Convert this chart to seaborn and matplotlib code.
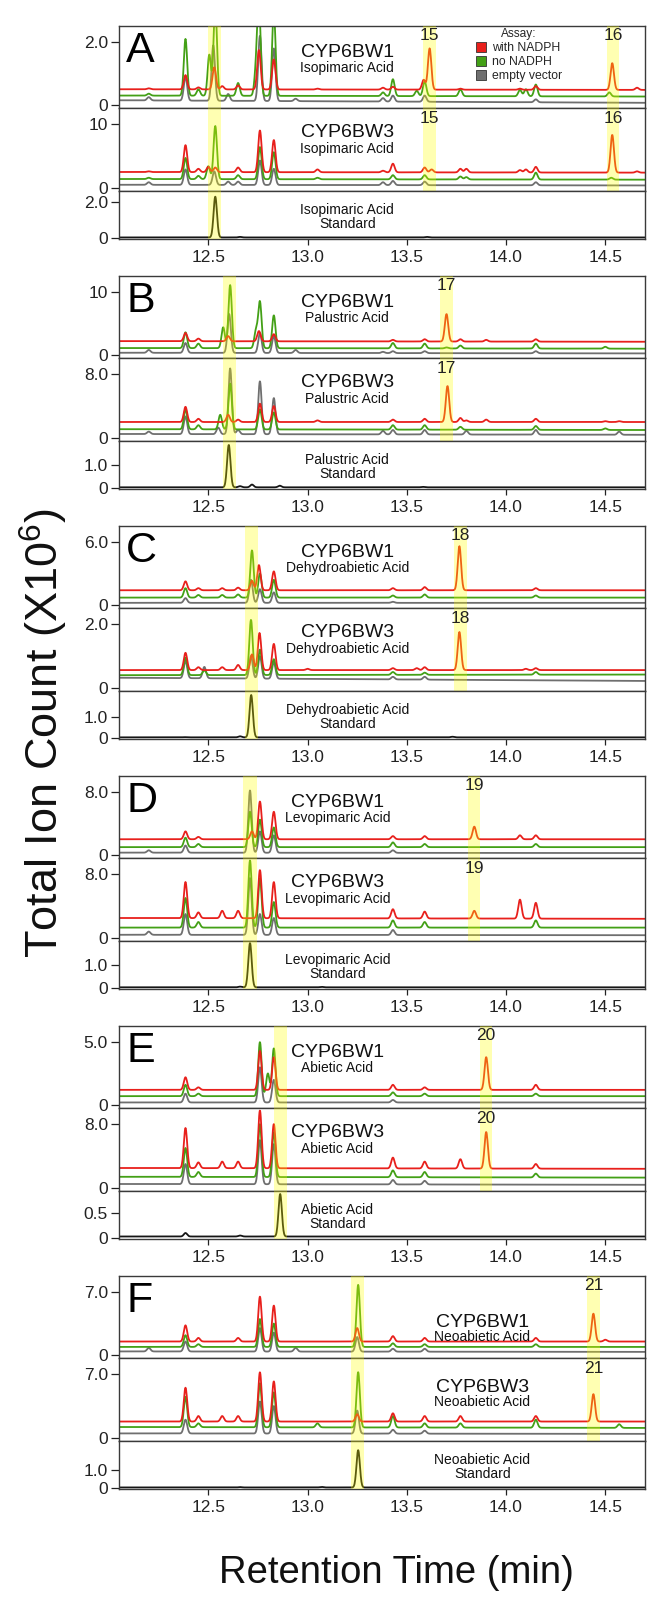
import numpy as np
import pandas as pd
import matplotlib
matplotlib.use("Agg")
import matplotlib.pyplot as plt
from matplotlib.lines import Line2D
import seaborn as sns

sns.set_theme(style="white")
plt.rcParams["font.family"] = ["Liberation Sans", "DejaVu Sans"]
plt.rcParams["mathtext.fontset"] = "custom"
plt.rcParams["mathtext.rm"] = "Liberation Sans"

# ---------------- data ----------------
X_MIN, X_MAX = 12.05, 14.7
X_TICKS = [12.5, 13.0, 13.5, 14.0, 14.5]
X_TICK_LABELS = ["12.5", "13.0", "13.5", "14.0", "14.5"]

PANELS = ["A", "B", "C", "D", "E", "F"]
ENZYMES = ["CYP6BW1", "CYP6BW3"]
SUBSTRATES = ["Isopimaric Acid", "Palustric Acid", "Dehydroabietic Acid",
              "Levopimaric Acid", "Abietic Acid", "Neoabietic Acid"]
SUBSTRATE_RT = [12.532, 12.605, 12.718, 12.71, 12.862, 13.25]
PRODUCT_LABELS = [["15", "16"], ["17"], ["18"], ["19"], ["20"], ["21"]]
PRODUCT_RT = [[13.615, 14.54], [13.70], [13.77], [13.84], [13.90], [14.44]]
LABEL_X = [13.2, 13.2, 13.2, 13.15, 13.15, 13.88]

# y tick value (label) for sub-panels: BW1, BW3, standard
YTICK_BW1 = [2.0, 10, 6.0, 8.0, 5.0, 7.0]
YTICK_BW1_LBL = ["2.0", "10", "6.0", "8.0", "5.0", "7.0"]
YTICK_BW3 = [10, 8.0, 2.0, 8.0, 8.0, 7.0]
YTICK_BW3_LBL = ["10", "8.0", "2.0", "8.0", "8.0", "7.0"]
YTICK_STD = [2.0, 1.0, 1.0, 1.0, 0.5, 1.0]
YTICK_STD_LBL = ["2.0", "1.0", "1.0", "1.0", "0.5", "1.0"]
YLIM_BW1 = [(-0.095, 2.51), (-0.48, 12.54), (-0.29, 7.52), (-0.38, 10.03), (-0.24, 6.27), (-0.33, 8.78)]
YLIM_BW3 = [(-0.47, 12.5), (-0.375, 10.0), (-0.094, 2.5), (-0.375, 10.0), (-0.375, 10.0), (-0.33, 8.75)]
YLIM_STD = [(-0.056, 2.61), (-0.043, 2.04), (-0.048, 2.24), (-0.043, 2.04), (-0.02, 0.94), (-0.056, 2.61)]

# traces: ((baseline_left, baseline_right), [(retention time, apex height), ...])
A_BW1_RED = ((0.50, 0.48), [(12.20, 0.53), (12.385, 0.95), (12.45, 0.56), (12.53, 1.2), (12.57, 0.6), (12.65, 0.62),
                            (12.755, 1.75), (12.83, 1.45), (13.05, 0.52), (13.38, 0.55), (13.43, 0.58), (13.585, 0.8),
                            (13.615, 1.8), (13.77, 0.52), (14.07, 0.52), (14.15, 0.6), (14.535, 1.33), (14.66, 0.55)])
A_BW1_GRN = ((0.30, 0.27), [(12.20, 0.36), (12.385, 2.1), (12.45, 0.5), (12.505, 1.6), (12.535, 3.2), (12.65, 0.7),
                            (12.74, 1.0), (12.755, 3.2), (12.83, 3.0), (13.38, 0.4), (13.43, 0.82), (13.55, 0.45),
                            (13.59, 0.75), (13.77, 0.5), (14.07, 0.48), (14.10, 0.5), (14.15, 0.65), (14.52, 0.4)])
A_BW1_GRY = ((0.15, 0.07), [(12.20, 0.25), (12.385, 0.9), (12.525, 1.9), (12.60, 0.35), (12.76, 2.2), (12.83, 1.8),
                            (12.94, 0.2), (13.38, 0.22), (13.43, 0.3), (13.59, 0.3), (14.15, 0.18)])
A_BW3_RED = ((2.5, 2.4), [(12.20, 2.6), (12.385, 6.7), (12.45, 3.0), (12.50, 3.3), (12.535, 3.2), (12.65, 3.2),
                          (12.76, 9.0), (12.83, 7.5), (13.05, 2.9), (13.38, 2.7), (13.43, 3.8), (13.59, 3.2),
                          (13.625, 2.9), (13.77, 3.0), (13.80, 3.0), (14.07, 2.8), (14.10, 2.9), (14.15, 3.3),
                          (14.535, 8.3), (14.66, 2.6)])
A_BW3_GRN = ((1.4, 1.3), [(12.20, 1.6), (12.385, 4.7), (12.45, 1.9), (12.50, 3.4), (12.535, 9.7), (12.65, 2.0),
                          (12.76, 6.4), (12.83, 5.6), (13.05, 1.6), (13.43, 2.0), (13.59, 2.0), (13.77, 1.8),
                          (13.80, 1.7), (14.15, 2.4), (14.53, 1.6)])
A_BW3_GRY = ((0.5, 0.4), [(12.20, 0.9), (12.385, 2.9), (12.53, 2.6), (12.60, 1.0), (12.65, 1.0), (12.76, 4.3),
                          (12.83, 3.0), (13.38, 0.9), (13.43, 1.1), (13.59, 1.0), (14.15, 0.9)])
A_STD = ((0.03, 0.03), [(12.535, 2.3), (12.66, 0.06), (13.6, 0.06)])

B_BW1_RED = ((2.2, 2.1), [(12.385, 3.5), (12.45, 2.6), (12.60, 3.0), (12.755, 3.8), (12.83, 3.3), (13.43, 2.4),
                          (13.59, 2.5), (13.70, 6.5), (13.77, 2.5), (13.90, 2.4), (14.15, 2.5)])
B_BW1_GRN = ((1.1, 1.0), [(12.385, 3.6), (12.45, 1.8), (12.575, 4.4), (12.61, 11.1), (12.74, 3.8), (12.76, 8.4),
                          (12.83, 6.3), (13.43, 1.9), (13.59, 1.8), (13.70, 1.2), (13.77, 1.5), (14.15, 1.8), (14.50, 1.3)])
B_BW1_GRY = ((0.35, 0.25), [(12.20, 0.8), (12.385, 1.9), (12.605, 6.5), (12.76, 3.5), (12.83, 3.0), (12.94, 0.8),
                            (13.38, 0.5), (13.43, 0.6), (13.59, 0.6), (14.15, 0.6)])
B_BW3_RED = ((2.0, 2.0), [(12.385, 3.9), (12.45, 2.4), (12.60, 2.9), (12.65, 2.3), (12.76, 4.3), (12.83, 4.0),
                          (13.05, 2.2), (13.43, 2.3), (13.59, 2.4), (13.705, 6.5), (13.77, 2.5), (13.80, 2.2),
                          (13.90, 2.3), (14.15, 2.4), (14.50, 2.1), (14.57, 2.1)])
B_BW3_GRN = ((1.1, 1.0), [(12.385, 3.6), (12.45, 1.6), (12.56, 2.9), (12.61, 6.8), (12.76, 3.6), (12.83, 3.2),
                          (13.43, 1.6), (13.59, 1.6), (13.77, 1.4), (14.15, 1.5), (14.50, 1.2)])
B_BW3_GRY = ((0.5, 0.4), [(12.20, 0.8), (12.385, 2.7), (12.55, 1.3), (12.61, 8.7), (12.65, 1.0), (12.76, 7.1),
                          (12.83, 5.0), (13.38, 0.9), (13.43, 1.0), (13.59, 1.0), (13.80, 0.9), (14.15, 1.0), (14.57, 0.8)])
B_STD = ((0.03, 0.03), [(12.603, 1.87), (12.66, 0.08), (12.72, 0.15), (12.86, 0.1), (13.58, 0.05)])

C_BW1_RED = ((1.4, 1.4), [(12.385, 2.25), (12.45, 1.6), (12.57, 1.6), (12.65, 1.65), (12.72, 2.3), (12.755, 3.8),
                          (12.83, 3.2), (13.43, 1.6), (13.59, 1.7), (13.765, 5.6), (14.15, 1.6)])
C_BW1_GRN = ((0.7, 0.7), [(12.385, 1.6), (12.45, 0.95), (12.57, 0.95), (12.65, 1.0), (12.72, 5.2), (12.76, 3.0),
                          (12.83, 2.4), (13.43, 0.9), (13.59, 1.0), (14.15, 0.9)])
C_BW1_GRY = ((0.2, 0.2), [(12.385, 0.65), (12.715, 2.4), (12.76, 1.5), (12.83, 1.2), (13.43, 0.3)])
C_BW3_RED = ((0.56, 0.56), [(12.385, 1.1), (12.45, 0.65), (12.57, 0.65), (12.65, 0.72), (12.72, 1.05), (12.758, 1.72),
                            (12.83, 1.38), (13.0, 0.6), (13.43, 0.62), (13.55, 0.62), (13.59, 0.65), (13.765, 1.75),
                            (14.10, 0.6), (14.15, 0.62)])
C_BW3_GRN = ((0.40, 0.42), [(12.385, 0.95), (12.48, 0.55), (12.715, 2.13), (12.76, 1.2), (12.83, 0.9), (13.43, 0.5),
                            (13.59, 0.48), (14.15, 0.5)])
C_BW3_GRY = ((0.32, 0.22), [(12.385, 0.85), (12.48, 0.66), (12.715, 1.0), (12.76, 1.0), (12.83, 0.8), (13.43, 0.35),
                            (13.59, 0.35)])
C_STD = ((0.03, 0.03), [(12.716, 2.05), (12.66, 0.08), (12.38, 0.04), (13.73, 0.06)])

D_BW1_RED = ((2.0, 2.0), [(12.385, 3.0), (12.45, 2.3), (12.72, 3.0), (12.76, 6.8), (12.83, 5.5), (13.43, 2.4),
                          (13.59, 2.4), (13.84, 3.6), (14.07, 2.5), (14.15, 2.5)])
D_BW1_GRN = ((1.0, 1.0), [(12.385, 2.2), (12.45, 1.4), (12.71, 5.5), (12.76, 4.5), (12.83, 3.5), (13.43, 1.6),
                          (13.59, 1.4), (14.15, 1.4)])
D_BW1_GRY = ((0.3, 0.25), [(12.20, 0.6), (12.385, 1.2), (12.71, 8.2), (12.76, 3.0), (12.83, 2.5), (13.43, 0.6)])
D_BW3_RED = ((2.5, 2.4), [(12.385, 7.0), (12.45, 3.2), (12.57, 3.4), (12.65, 3.4), (12.76, 8.5), (12.83, 7.0),
                          (13.43, 3.6), (13.59, 3.3), (13.84, 3.4), (14.07, 4.8), (14.15, 4.4)])
D_BW3_GRN = ((1.3, 1.3), [(12.385, 5.0), (12.45, 2.0), (12.71, 9.7), (12.76, 7.5), (12.83, 4.5), (13.43, 2.2),
                          (13.59, 2.0), (14.15, 2.2)])
D_BW3_GRY = ((0.4, 0.35), [(12.20, 0.8), (12.385, 3.0), (12.71, 7.5), (12.76, 3.0), (12.83, 2.5), (13.43, 1.0)])
D_STD = ((0.03, 0.03), [(12.71, 1.95), (12.66, 0.06), (13.07, 0.05)])

E_BW1_RED = ((1.2, 1.2), [(12.385, 2.2), (12.45, 1.4), (12.76, 4.3), (12.83, 3.8), (13.43, 1.6), (13.59, 1.4),
                          (13.90, 3.8), (14.15, 1.6)])
E_BW1_GRN = ((0.7, 0.7), [(12.385, 1.6), (12.45, 0.9), (12.76, 5.0), (12.80, 2.5), (12.83, 4.5), (13.43, 1.0),
                          (13.59, 0.9), (14.15, 0.9)])
E_BW1_GRY = ((0.2, 0.2), [(12.385, 0.9), (12.76, 3.0), (12.83, 2.0), (13.43, 0.4)])
E_BW3_RED = ((2.5, 2.4), [(12.385, 7.5), (12.45, 3.2), (12.57, 3.3), (12.65, 3.3), (12.76, 9.7), (12.83, 8.0),
                          (13.43, 3.8), (13.59, 3.3), (13.77, 3.6), (13.90, 7.0), (14.15, 3.0)])
E_BW3_GRN = ((1.4, 1.3), [(12.385, 5.0), (12.45, 2.0), (12.76, 8.0), (12.83, 7.0), (13.43, 2.2), (13.59, 2.0),
                          (14.15, 1.8)])
E_BW3_GRY = ((0.5, 0.4), [(12.385, 3.0), (12.76, 6.0), (12.83, 5.5), (13.43, 1.0), (13.59, 0.9)])
E_STD = ((0.03, 0.03), [(12.862, 0.88), (12.385, 0.1), (12.66, 0.05)])

F_BW1_RED = ((1.5, 1.5), [(12.385, 3.3), (12.45, 1.9), (12.65, 1.9), (12.76, 6.5), (12.83, 5.5), (13.25, 3.0),
                          (13.43, 2.1), (13.59, 1.9), (14.15, 1.9), (14.44, 4.6), (14.50, 1.7)])
F_BW1_GRN = ((0.9, 0.9), [(12.385, 2.2), (12.45, 1.2), (12.76, 4.0), (12.83, 3.5), (13.255, 7.8), (13.43, 1.3),
                          (13.59, 1.2), (14.15, 1.2)])
F_BW1_GRY = ((0.4, 0.35), [(12.20, 0.8), (12.385, 1.5), (12.76, 3.0), (12.83, 2.5), (12.94, 0.8), (13.25, 2.0),
                           (13.43, 0.7), (13.59, 0.7)])
F_BW3_RED = ((1.8, 1.8), [(12.385, 5.5), (12.45, 2.4), (12.57, 2.4), (12.65, 2.4), (12.76, 7.2), (12.83, 6.2),
                          (13.25, 2.6), (13.43, 2.7), (13.59, 2.4), (13.77, 2.4), (14.15, 2.4), (14.44, 4.8)])
F_BW3_GRN = ((1.2, 1.1), [(12.385, 4.5), (12.45, 1.6), (12.76, 6.0), (12.83, 5.0), (13.05, 1.6), (13.255, 7.2),
                          (13.43, 2.4), (13.59, 1.6), (13.77, 1.6), (14.15, 2.0), (14.57, 1.5)])
F_BW3_GRY = ((0.5, 0.45), [(12.385, 2.0), (12.76, 4.0), (12.83, 3.5), (13.25, 3.0), (13.43, 0.9), (13.59, 0.8)])
F_STD = ((0.03, 0.03), [(13.255, 2.1), (12.66, 0.05), (13.07, 0.06)])

BW1_TRACES = [(A_BW1_GRY, A_BW1_GRN, A_BW1_RED), (B_BW1_GRY, B_BW1_GRN, B_BW1_RED),
              (C_BW1_GRY, C_BW1_GRN, C_BW1_RED), (D_BW1_GRY, D_BW1_GRN, D_BW1_RED),
              (E_BW1_GRY, E_BW1_GRN, E_BW1_RED), (F_BW1_GRY, F_BW1_GRN, F_BW1_RED)]
BW3_TRACES = [(A_BW3_GRY, A_BW3_GRN, A_BW3_RED), (B_BW3_GRY, B_BW3_GRN, B_BW3_RED),
              (C_BW3_GRY, C_BW3_GRN, C_BW3_RED), (D_BW3_GRY, D_BW3_GRN, D_BW3_RED),
              (E_BW3_GRY, E_BW3_GRN, E_BW3_RED), (F_BW3_GRY, F_BW3_GRN, F_BW3_RED)]
STD_TRACES = [A_STD, B_STD, C_STD, D_STD, E_STD, F_STD]

ASSAYS = ["with NADPH", "no NADPH", "empty vector"]
COL_RED, COL_GRN, COL_GRY, COL_BLK = "#e8201c", "#43a016", "#6f6f6f", "#151515"
TRACE_COLORS = [COL_GRY, COL_GRN, COL_RED]
BAND_COLOR = "#ffff00"

# text placement (axes-height fraction) for enzyme / substrate labels
NAME_Y_BW1 = [0.68, 0.68, 0.68, 0.68, 0.68, 0.43]
ACID_Y_BW1 = [0.49, 0.49, 0.49, 0.49, 0.49, 0.26]

# ---------------- helpers ----------------
RT = np.linspace(X_MIN, X_MAX, 1600)
SIGMA = 0.0085


def chromatogram(trace):
    (b0, b1), peaks = trace
    base = b0 + (b1 - b0) * (RT - X_MIN) / (X_MAX - X_MIN)
    y = base.copy()
    for rt, apex in peaks:
        amp = apex - np.interp(rt, RT, base)
        y += amp * np.exp(-0.5 * ((RT - rt) / SIGMA) ** 2)
    return pd.DataFrame({"rt": RT, "tic": y})


def style_axis(ax, ylim, tick, tick_lbl, bottom):
    ax.set_xlim(X_MIN, X_MAX)
    ax.set_ylim(*ylim)
    ax.set_yticks([0, tick])
    ax.set_yticklabels(["0", tick_lbl])
    ax.set_xlabel("")
    ax.set_ylabel("")
    ax.tick_params(axis="y", which="both", left=True, length=6, width=0.9, pad=2,
                   labelsize=12.5, colors="#222222")
    if bottom:
        ax.set_xticks(X_TICKS)
        ax.set_xticklabels(X_TICK_LABELS)
        ax.tick_params(axis="x", bottom=True, length=4, width=0.9, pad=4,
                       labelsize=12.5, colors="#222222")
    else:
        ax.set_xticks([])
    for s in ax.spines.values():
        s.set_color("#3a3a3a")
        s.set_linewidth(1.0)
    ax.set_facecolor("white")


# ---------------- figure ----------------
W, H = 672, 1597
fig = plt.figure(figsize=(W / 100, H / 100), dpi=100)
fig.patch.set_facecolor("white")

LEFT, RIGHT = 119, 645
GROUP_TOP0, GROUP_STEP = 26, 250
H1, H2, H3 = 82, 83, 48


def add_ax(top, h):
    return fig.add_axes([LEFT / W, 1 - (top + h) / H, (RIGHT - LEFT) / W, h / H])


for g in range(6):
    top = GROUP_TOP0 + g * GROUP_STEP
    ax1 = add_ax(top, H1)
    ax2 = add_ax(top + H1, H2)
    ax3 = add_ax(top + H1 + H2, H3)

    for ax, traces in ((ax1, BW1_TRACES[g]), (ax2, BW3_TRACES[g])):
        for tr, col in zip(traces, TRACE_COLORS):
            sns.lineplot(data=chromatogram(tr), x="rt", y="tic", ax=ax, color=col,
                         lw=1.3, estimator=None, sort=False, legend=False)
    sns.lineplot(data=chromatogram(STD_TRACES[g]), x="rt", y="tic", ax=ax3, color=COL_BLK,
                 lw=1.3, estimator=None, sort=False, legend=False)

    style_axis(ax1, YLIM_BW1[g], YTICK_BW1[g], YTICK_BW1_LBL[g], False)
    style_axis(ax2, YLIM_BW3[g], YTICK_BW3[g], YTICK_BW3_LBL[g], False)
    style_axis(ax3, YLIM_STD[g], YTICK_STD[g], YTICK_STD_LBL[g], True)

    # highlight bands (drawn on top, translucent)
    srt = SUBSTRATE_RT[g]
    for ax in (ax1, ax2, ax3):
        ax.axvspan(srt - 0.033, srt + 0.033, color=BAND_COLOR, alpha=0.3, lw=0, zorder=5)
    for prt, plbl in zip(PRODUCT_RT[g], PRODUCT_LABELS[g]):
        for ax, yf in ((ax1, 0.89), (ax2, 0.87)):
            ax.axvspan(prt - 0.031, prt + 0.031, color=BAND_COLOR, alpha=0.3, lw=0, zorder=5)
            ax.text(prt, yf, plbl, transform=ax.get_xaxis_transform(), ha="center", va="center",
                    fontsize=12.5, color="#222222", zorder=6)

    # panel letter
    ax1.text(0.014, 0.56, PANELS[g], transform=ax1.transAxes, ha="left", va="baseline",
             fontsize=31, color="black", zorder=7)

    lx = LABEL_X[g]
    ax1.text(lx, NAME_Y_BW1[g], ENZYMES[0], transform=ax1.get_xaxis_transform(), ha="center",
             va="center", fontsize=14, color="#111111", zorder=7)
    ax1.text(lx, ACID_Y_BW1[g], SUBSTRATES[g], transform=ax1.get_xaxis_transform(), ha="center",
             va="center", fontsize=10, color="#111111", zorder=7)
    ax2.text(lx, 0.70 if g < 5 else 0.65, ENZYMES[1], transform=ax2.get_xaxis_transform(),
             ha="center", va="center", fontsize=14, color="#111111", zorder=7)
    ax2.text(lx, 0.51 if g < 5 else 0.47, SUBSTRATES[g], transform=ax2.get_xaxis_transform(),
             ha="center", va="center", fontsize=10, color="#111111", zorder=7)
    ax3.text(lx, 0.60, SUBSTRATES[g], transform=ax3.get_xaxis_transform(), ha="center", va="center",
             fontsize=10, color="#111111", zorder=7)
    ax3.text(lx, 0.31, "Standard", transform=ax3.get_xaxis_transform(), ha="center", va="center",
             fontsize=10, color="#111111", zorder=7)

    if g == 0:
        handles = [Line2D([], [], ls="", marker="s", markersize=6.5, markerfacecolor=c,
                          markeredgecolor="#333333", markeredgewidth=0.6)
                   for c in (COL_RED, COL_GRN, COL_GRY)]
        leg = ax1.legend(handles, ASSAYS, title="Assay:", loc="upper left",
                         bbox_to_anchor=((476 - LEFT) / (RIGHT - LEFT), 0.97), frameon=False,
                         fontsize=8.8, title_fontsize=8.6, labelspacing=0.15, handletextpad=0.5,
                         handlelength=0.8, borderpad=0, borderaxespad=0)
        leg.set_zorder(8)

fig.text(44 / W, 1 - 733 / H, r"Total Ion Count (X10$^{\mathrm{6}}$)", rotation=90,
         ha="center", va="center", fontsize=32.5, color="#111111")
fig.text(396 / W, 1 - 1573 / H, "Retention Time (min)", ha="center", va="center",
         fontsize=27.5, color="#111111")

fig.savefig("out.png", dpi=100, facecolor="white")
